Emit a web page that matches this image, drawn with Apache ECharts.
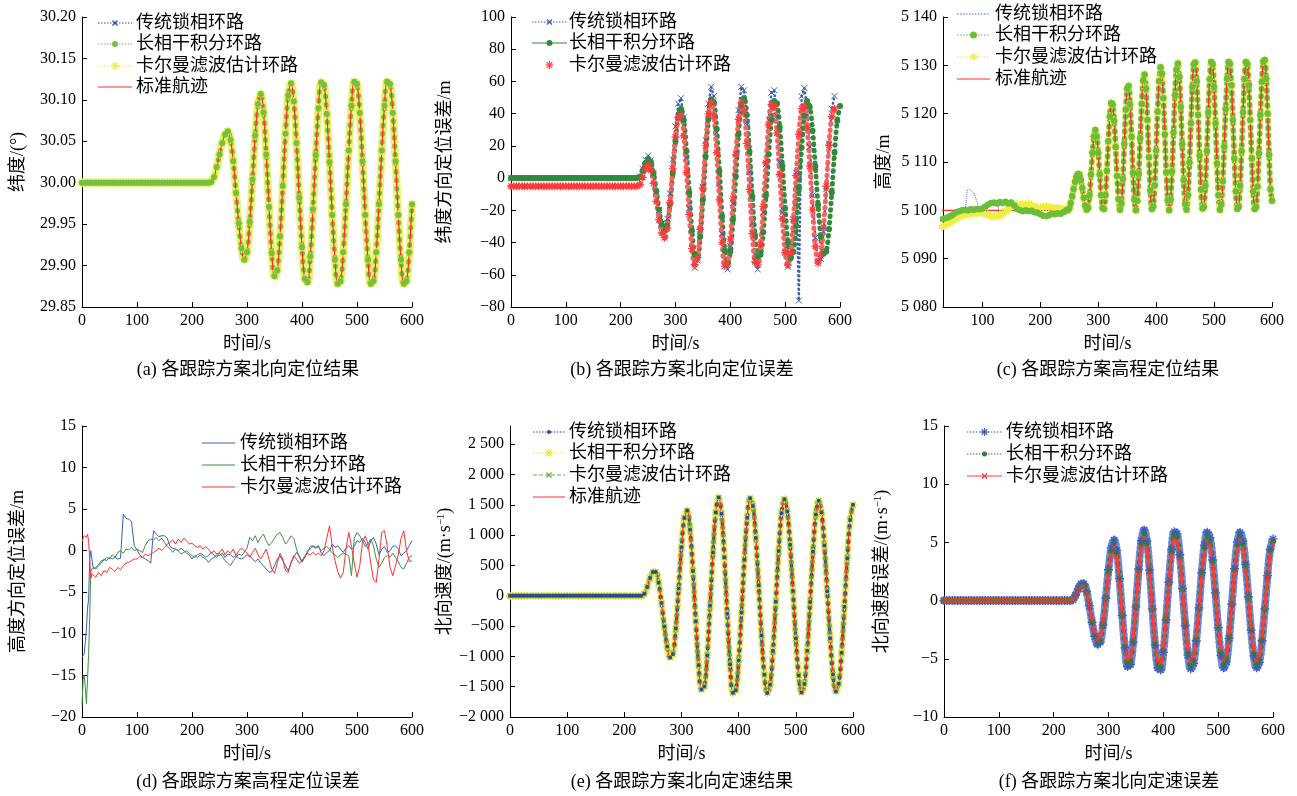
<!DOCTYPE html>
<html>
<head>
<meta charset="utf-8">
<script src="https://cdn.jsdelivr.net/npm/echarts@6/dist/echarts.min.js"></script>
<style>
  html, body { margin: 0; padding: 0; background: #fff; }
  #chart { width: 1297px; height: 796px; }
</style>
</head>
<body>
<div id="chart"></div>
<script>
// sample times (s)
const times = [];
for (let t = 0; t <= 600; t += 5) times.push(t);
const cTimesEarly = [];
for (let t = 30; t <= 245; t += 5) cTimesEarly.push(t);
const cTimesOsc = [];
for (let t = 247.5; t <= 600; t += 2.5) cTimesOsc.push(t);
const dTimes = [];
for (let t = 0; t <= 20; t += 2) dTimes.push(t);
for (let t = 25; t <= 600; t += 5) dTimes.push(t);

// (a) latitude, deg
const latTrue = [
  30, 30, 30, 30, 30, 30, 30, 30, 30, 30,
  30, 30, 30, 30, 30, 30, 30, 30, 30, 30,
  30, 30, 30, 30, 30, 30, 30, 30, 30, 30,
  30, 30, 30, 30, 30, 30, 30, 30, 30, 30,
  30, 30, 30, 30, 30, 30, 30, 30.001, 30.007, 30.019,
  30.034, 30.048, 30.058, 30.062, 30.052, 30.026, 29.988, 29.951, 29.921, 29.907,
  29.916, 29.953, 30.004, 30.057, 30.095, 30.107, 30.085, 30.034, 29.971, 29.915,
  29.887, 29.894, 29.935, 29.996, 30.059, 30.105, 30.120, 30.098, 30.048, 29.982,
  29.922, 29.884, 29.880, 29.911, 29.968, 30.033, 30.090, 30.121, 30.118, 30.083,
  30.025, 29.961, 29.907, 29.878, 29.881, 29.916, 29.974, 30.039, 30.093, 30.122,
  30.119, 30.084, 30.026, 29.961, 29.907, 29.878, 29.881, 29.916, 29.974, 30.039,
  30.093, 30.122, 30.119, 30.084, 30.026, 29.961, 29.907, 29.878, 29.881, 29.916,
  29.974
];

// (b) latitude error, m
const bPll = [
  0, 0, 0, 0, 0, 0, 0, 0, 0, 0,
  0, 0, 0, 0, 0, 0, 0, 0, 0, 0,
  0, 0, 0, 0, 0, 0, 0, 0, 0, 0,
  0, 0, 0, 0, 0, 0, 0, 0, 0, 0,
  0, 0, 0, 0, 0, 0, 0, 0.9, 5.8, 11.5,
  14, 11.0, 2.8, -8.5, -19.8, -28.0, -31, -25.2, -9.5, 11.6,
  32.1, 46.2, 49.6, 37.6, 12.5, -18.5, -43.6, -55.6, -51.1, -32.7,
  -5.4, 23.5, 46.2, 56.7, 50.8, 28.3, -3.8, -34.8, -54.5, -56.7,
  -42.2, -15.5, 15.5, 42.2, 56.7, 54.5, 34.8, 3.8, -28.3, -50.8,
  -56.7, -45.5, -21.4, 8.7, 36.1, 53.1, 54.5, 38.6, 10.2, -21.5,
  -45.9, -55, -47.1, -25.5, 3.4, -76, 50.8, 55.9, 44.1, 19.5,
  -10.7, -37.0, -51.6, -50.1, -33.4, -6.8, 21.6, 43.0, 51
];
const bFll = [
  0, 0, 0, 0, 0, 0, 0, 0, 0, 0,
  0, 0, 0, 0, 0, 0, 0, 0, 0, 0,
  0, 0, 0, 0, 0, 0, 0, 0, 0, 0,
  0, 0, 0, 0, 0, 0, 0, 0, 0, 0,
  0, 0, 0, 0, 0, 0, 0, 0.7, 4.5, 9.3,
  11.9, 10.1, 2.7, -8.1, -19.7, -28.7, -32.9, -29.5, -16.3, 2.9,
  22.8, 37.6, 43, 35.9, 16.7, -8.7, -32.5, -47.4, -48.9, -36.4,
  -13.4, 13.4, 36.4, 48.9, 47.1, 30.6, 4.3, -23.9, -45.1, -53,
  -45.6, -25.7, 1.2, 27.3, 45.2, 49.7, 39.1, 16.5, -11.2, -35.4,
  -48.7, -47.6, -33.6, -10.8, 14.8, 36.3, 47.9, 46.4, 31.5, 7.5,
  -18.8, -39.9, -49.7, -45.8, -29.8, -6.1, 18.9, 38.6, 47.8, 44.1,
  29.4, 7.2, -16.7, -36.4, -47.0, -45.6, -31.6, -9.0, 15.7, 35.5,
  44.7
];
const bKf = [
  -5, -5, -5, -5, -5, -5, -5, -5, -5, -5,
  -5, -5, -5, -5, -5, -5, -5, -5, -5, -5,
  -5, -5, -5, -5, -5, -5, -5, -5, -5, -5,
  -5, -5, -5, -5, -5, -5, -5, -5, -5, -5,
  -5, -5, -5, -5, -5, -5, -5, -4.1, 0.4, 5.7,
  8, 5.0, -3.3, -14.5, -25.8, -34.0, -37, -31.1, -15.2, 5.8,
  25.5, 37.8, 38.8, 26.2, 3.5, -22.5, -43.7, -53.7, -49.4, -31.8,
  -6.2, 20.1, 39.8, 47, 38.6, 15.9, -13.5, -39.8, -54.6, -53.3,
  -37.8, -12.8, 14.6, 36.5, 46.7, 41.5, 21.5, -7.0, -34.4, -51.9,
  -53.8, -41.1, -17.6, 9.6, 33.1, 45.8, 44.2, 28.0, 2.2, -25.4,
  -46.3, -54, -46.4, -25.7, 1.6, 27.2, 43.2, 44.8, 31.5, 7.5,
  -19.8, -42.2, -52.7, -48.2, -30.5, -5, 20.5, 38.2, 43
];

// (c) height, m  (early part 30-245 s every 5 s, then 247.5-600 s every 2.5 s)
const hEarlyTrue = [
  5100, 5100, 5100, 5100, 5100, 5100, 5100, 5100, 5100, 5100,
  5100, 5100, 5100, 5100, 5100, 5100, 5100, 5100, 5100, 5100,
  5100, 5100, 5100, 5100, 5100, 5100, 5100, 5100, 5100, 5100,
  5100, 5100, 5100, 5100, 5100, 5100, 5100, 5100, 5100, 5100,
  5100, 5100, 5100, 5100
];
const hEarlyPll = [
  5098.5, 5098.9, 5099.2, 5099.4, 5099.6, 5099.8, 5099.7, 5099.9, 5100.1, 5104.5,
  5104.1, 5103.6, 5102.0, 5100.3, 5100.2, 5100.0, 5099.6, 5099.3, 5098.9, 5098.3,
  5101.8, 5101.4, 5101.7, 5101.2, 5101.5, 5100.6, 5100.2, 5100.0, 5100.1, 5099.9,
  5100.2, 5100.4, 5100.1, 5099.8, 5099.6, 5099.4, 5099.3, 5099.5, 5099.6, 5099.2,
  5098.8, 5098.9, 5099.5, 5100.0
];
const hEarlyFll = [
  5098.2, 5098.3, 5098.5, 5098.8, 5099.2, 5099.6, 5099.8, 5100.0, 5100.1, 5100.0,
  5100.2, 5100.1, 5100.3, 5100.2, 5100.4, 5100.8, 5101.2, 5101.5, 5101.6, 5101.4,
  5101.7, 5101.5, 5101.8, 5101.4, 5101.6, 5101.0, 5100.3, 5100.0, 5099.8, 5100.0,
  5099.8, 5099.9, 5099.6, 5099.5, 5099.2, 5098.9, 5098.8, 5099.0, 5099.3, 5099.2,
  5099.4, 5099.3, 5099.6, 5100.0
];
const hEarlyKf = [
  5096.5, 5096.9, 5097.3, 5097.6, 5098.0, 5098.4, 5098.6, 5098.9, 5099.1, 5099.3,
  5099.2, 5099.5, 5099.4, 5099.6, 5099.5, 5099.3, 5099.0, 5098.8, 5098.7, 5098.9,
  5098.8, 5099.3, 5099.8, 5100.3, 5100.7, 5101.0, 5101.2, 5101.0, 5101.3, 5101.1,
  5101.4, 5101.0, 5100.8, 5100.6, 5100.5, 5100.7, 5100.8, 5100.5, 5100.6, 5100.4,
  5100.5, 5100.3, 5100.2, 5100.4
];
const hOsc = [
  5100.0, 5100.4, 5101.5, 5102.9, 5104.4, 5105.9, 5107.0, 5107.5, 5107.4, 5106.3,
  5104.6, 5102.6, 5101.0, 5100.1, 5100.5, 5103.1, 5107.4, 5111.9, 5115.3, 5116.6,
  5115.3, 5111.9, 5107.4, 5103.1, 5100.5, 5100.3, 5103.1, 5108.2, 5114.3, 5119.4,
  5122.2, 5121.9, 5118.5, 5113.1, 5107.1, 5102.3, 5100.1, 5101.4, 5106.5, 5113.8,
  5120.8, 5125.2, 5125.7, 5121.9, 5115.3, 5107.8, 5102.2, 5100.0, 5102.0, 5107.5,
  5114.9, 5122.0, 5126.9, 5128.1, 5125.2, 5118.7, 5111.0, 5104.1, 5100.3, 5100.8,
  5105.2, 5112.4, 5120.4, 5126.7, 5129.6, 5128.3, 5123.2, 5115.7, 5107.9, 5102.1,
  5100.0, 5102.2, 5108.1, 5116.1, 5123.8, 5129.1, 5130.4, 5127.6, 5121.4, 5113.7,
  5106.3, 5101.3, 5100.1, 5103.1, 5109.9, 5118.0, 5125.5, 5130.2, 5130.6, 5126.7,
  5119.7, 5111.3, 5104.3, 5100.4, 5100.7, 5105.1, 5112.3, 5120.3, 5127.1, 5130.7,
  5130.2, 5125.5, 5118.0, 5109.7, 5103.1, 5100.1, 5101.2, 5106.0, 5113.2, 5120.9,
  5127.2, 5130.7, 5130.3, 5125.9, 5118.7, 5110.7, 5103.9, 5100.3, 5100.7, 5105.1,
  5112.3, 5120.3, 5127.1, 5130.7, 5130.3, 5125.9, 5118.7, 5110.7, 5103.9, 5100.3,
  5100.7, 5104.9, 5111.8, 5119.8, 5126.6, 5130.8, 5131.1, 5127.2, 5120.0, 5111.5,
  5104.3, 5102.0
];

// (d) height error, m  (0-20 s every 2 s, then every 5 s)
const dPll = [
  -12.8, -13.0, -12.4, -11.0, -9.5, -7.0, -5.8, -1.0, 0.0, -1.0, -2.0,
  -2.2, -1.8, -1.5, -1.0, -1.2, -0.8, -1.0, -0.8, -1.0, -0.9,
  4.4, 3.9, 3.8, 3.5, 0.6, 0.1, -0.5, -0.8, -1.0, -1.2,
  -1.5, 2.4, 2.0, 1.7, 1.8, 1.8, 1.5, 0.5, 0.3, 0.2,
  0.0, 0.3, 0.0, -0.3, -0.5, -1.0, -0.6, -0.8, -0.5, -0.8,
  -1.0, -1.4, -1.0, -0.8, -0.5, -0.6, -0.3, -0.8, -0.4, -0.5,
  -0.8, -0.6, -0.9, -1.0, -0.8, -0.5, -0.6, -1.0, -1.3, -1.0,
  -1.5, -1.8, -2.2, -2.6, -2.5, -1.8, -1.0, -0.6, -1.2, -1.8,
  -2.4, -1.5, -0.8, -0.2, -0.6, -1.3, -0.8, -0.2, 0.5, 0.6,
  0.4, 0.6, -0.3, -0.6, -0.2, 0.0, 0.8, 0.4, 0.6, 0.2,
  -0.2, 0.3, 0.6, 0.2, 0.5, 1.2, 1.0, 1.5, 1.0, 0.2,
  1.2, 1.6, 0.8, -0.5, 0.2, 0.5, -0.2, 0.0, 0.5, 0.6,
  0.2, -0.6, -0.3, 0.0, 0.6, 1.2
];
const dFll = [
  -18.6, -15.5, -15.0, -16.5, -18.4, -15.5, -12.5, -8.0, -2.5, -2.2, -2.2,
  -2.0, -1.7, -1.2, -1.2, -0.8, -1.0, -0.5, -0.8, -0.2, 0.0,
  -0.3, 0.2, 0.1, 0.4, 0.0, 0.2, 0.0, -0.2, 0.6, 1.2,
  1.4, 1.3, 1.6, 1.2, 1.5, 1.0, 0.5, 0.2, -0.2, 0.2,
  0.0, -0.4, -0.2, 0.0, -0.3, -0.6, -0.8, -0.5, -0.3, -0.5,
  -0.8, -0.6, -0.2, -0.5, -0.8, -0.3, -0.7, -1.2, -1.5, -1.8,
  -1.2, -0.8, -0.4, -0.6, -0.2, 0.3, 1.6, 1.2, 1.8, 1.0,
  1.6, 2.0, 1.2, 0.6, 1.0, 1.5, 2.0, 2.2, 1.6, 0.8,
  1.2, 1.8, 1.5, 0.2, -0.8, -1.4, -0.8, 0.0, 0.2, 0.5,
  0.3, 0.5, 0.0, 0.3, 0.5, 0.2, -0.3, -0.5, -0.8, -0.5,
  -0.3, -0.4, -0.6, -3.0, 1.5, 2.2, 1.8, 1.2, 0.5, 0.8,
  1.4, 0.6, -1.0, -2.0, -1.5, -0.8, -0.6, -0.8, -0.3, -0.8,
  -1.3, -2.0, -2.2, -1.5, -0.8, -0.6
];
const dKf = [
  1.0, 1.5, 1.8, 2.0, 1.6, 2.0, 1.2, -1.0, -3.3, -2.8, -3.0,
  -3.2, -2.6, -3.0, -2.4, -2.6, -2.0, -2.2, -2.5, -2.0, -2.3,
  -1.8, -1.5, -1.4, -1.2, -1.0, -1.0, -0.7, -0.8, -0.4, -0.6,
  -0.4, -0.2, 0.0, 0.3, 0.0, 0.4, 0.8, 1.0, 1.3, 0.8,
  1.4, 1.0, 1.5, 1.2, 0.8, 0.9, 0.6, 0.4, 0.6, 0.2,
  0.5, 0.2, -0.3, 0.0, -0.4, -0.2, 0.2, -0.5, 0.0, -0.3,
  0.2, -0.6, 0.0, 0.3, 0.0, -0.3, -0.8, -0.2, 0.3, -0.5,
  -1.0, -0.4, 0.2, -1.0, -2.2, -2.7, -1.5, -0.3, -1.0, -2.4,
  -2.6, -1.4, -0.6, -1.0, -1.5, -1.2, -0.6, -0.3, -0.5, -0.2,
  -0.5, -0.3, -0.6, 0.0, 1.5, 3.0, 0.5, -1.2, -2.5, -3.3,
  -2.6, 0.2, 2.2, 0.5, -1.5, -3.2, -1.8, 1.0, 1.8, 0.8,
  -1.5, -3.5, -3.8, -1.0, 2.2, 2.4, 0.5, -2.0, -3.0, -1.8,
  -0.5, 1.5, 2.4, 0.0, -1.3, -1.2
];

// (e) north velocity, m/s
const velTrue = [
  0, 0, 0, 0, 0, 0, 0, 0, 0, 0,
  0, 0, 0, 0, 0, 0, 0, 0, 0, 0,
  0, 0, 0, 0, 0, 0, 0, 0, 0, 0,
  0, 0, 0, 0, 0, 0, 0, 0, 0, 0,
  0, 0, 0, 0, 0, 0, 0, 32, 146, 291,
  392, 393, 213, -120, -506, -839, -1019, -962, -542, 118,
  802, 1284, 1406, 1088, 409, -421, -1147, -1548, -1497, -984,
  -164, 712, 1374, 1619, 1351, 634, -295, -1130, -1598, -1557,
  -1066, -276, 592, 1286, 1609, 1480, 953, 172, -655, -1305,
  -1606, -1467, -910, -98, 738, 1362, 1591, 1391, 840, 77,
  -706, -1314, -1595, -1457, -907, -103, 725, 1342, 1569, 1372,
  827, 73, -700, -1301, -1579, -1452, -941, -183, 620, 1250,
  1500
];

// (f) north velocity error, m/s
const fPll = [
  0, 0, 0, 0, 0, 0, 0, 0, 0, 0,
  0, 0, 0, 0, 0, 0, 0, 0, 0, 0,
  0, 0, 0, 0, 0, 0, 0, 0, 0, 0,
  0, 0, 0, 0, 0, 0, 0, 0, 0, 0,
  0, 0, 0, 0, 0, 0, 0, 0.07, 0.48, 1.02,
  1.43, 1.44, 0.78, -0.44, -1.86, -3.08, -3.74, -3.55, -2.11, 0.20,
  2.65, 4.51, 5.2, 4.30, 1.88, -1.26, -4.07, -5.65, -5.47, -3.57,
  -0.54, 2.70, 5.14, 6.05, 5.12, 2.61, -0.71, -3.82, -5.76, -5.96,
  -4.44, -1.65, 1.60, 4.39, 5.91, 5.74, 3.94, 1.04, -2.14, -4.68,
  -5.86, -5.39, -3.47, -0.62, 2.40, 4.77, 5.87, 5.40, 3.49, 0.66,
  -2.33, -4.68, -5.77, -5.26, -3.24, -0.29, 2.75, 5.02, 5.85, 5.12,
  3.11, 0.33, -2.53, -4.75, -5.77, -5.31, -3.47, -0.74, 2.15, 4.42,
  5.3
];
const fFll = [
  0, 0, 0, 0, 0, 0, 0, 0, 0, 0,
  0, 0, 0, 0, 0, 0, 0, 0, 0, 0,
  0, 0, 0, 0, 0, 0, 0, 0, 0, 0,
  0, 0, 0, 0, 0, 0, 0, 0, 0, 0,
  0, 0, 0, 0, 0, 0, 0, 0.07, 0.45, 0.96,
  1.34, 1.35, 0.72, -0.43, -1.77, -2.92, -3.55, -3.37, -2.01, 0.18,
  2.50, 4.25, 4.9, 4.05, 1.76, -1.21, -3.87, -5.36, -5.19, -3.39,
  -0.52, 2.55, 4.87, 5.73, 4.85, 2.47, -0.69, -3.64, -5.48, -5.67,
  -4.23, -1.58, 1.51, 4.15, 5.59, 5.43, 3.73, 0.98, -2.04, -4.45,
  -5.57, -5.12, -3.31, -0.61, 2.25, 4.49, 5.52, 5.08, 3.28, 0.61,
  -2.23, -4.45, -5.47, -4.99, -3.08, -0.29, 2.59, 4.74, 5.53, 4.84,
  2.94, 0.30, -2.41, -4.51, -5.47, -5.04, -3.29, -0.69, 2.07, 4.23,
  5.1
];
const fKf = [
  0, 0, 0, 0, 0, 0, 0, 0, 0, 0,
  0, 0, 0, 0, 0, 0, 0, 0, 0, 0,
  0, 0, 0, 0, 0, 0, 0, 0, 0, 0,
  0, 0, 0, 0, 0, 0, 0, 0, 0, 0,
  0, 0, 0, 0, 0, 0, 0, 0.06, 0.41, 0.89,
  1.24, 1.25, 0.66, -0.42, -1.68, -2.76, -3.35, -3.18, -1.90, 0.15,
  2.34, 3.99, 4.6, 3.80, 1.64, -1.15, -3.66, -5.07, -4.90, -3.21,
  -0.49, 2.40, 4.59, 5.4, 4.57, 2.32, -0.66, -3.45, -5.19, -5.37,
  -4.01, -1.50, 1.41, 3.91, 5.27, 5.12, 3.51, 0.92, -1.93, -4.21,
  -5.27, -4.85, -3.14, -0.60, 2.09, 4.20, 5.17, 4.75, 3.06, 0.55,
  -2.12, -4.21, -5.17, -4.72, -2.92, -0.28, 2.43, 4.46, 5.2, 4.55,
  2.76, 0.27, -2.28, -4.26, -5.17, -4.76, -3.10, -0.64, 1.98, 4.03,
  4.9
];

const NAMES = ['传统锁相环路', '长相干积分环路', '卡尔曼滤波估计环路', '标准航迹'];
const captions = [
  '(a) 各跟踪方案北向定位结果', '(b) 各跟踪方案北向定位误差', '(c) 各跟踪方案高程定位结果',
  '(d) 各跟踪方案高程定位误差', '(e) 各跟踪方案北向定速结果', '(f) 各跟踪方案北向定速误差'
];

const FONT = "'Liberation Serif', 'Noto Sans CJK SC', serif";
const MINUS = '\u2212';
const SYM = {
  x: 'path://M0,0L10,10M10,0L0,10',
  star: 'path://M5,0L5,10M0,5L10,5M1.5,1.5L8.5,8.5M1.5,8.5L8.5,1.5'
};
// same marks as unit line segments, for the legend graphics
const SEG = {
  x: [[-0.5, -0.5, 0.5, 0.5], [0.5, -0.5, -0.5, 0.5]],
  star: [[0, -0.5, 0, 0.5], [-0.5, 0, 0.5, 0], [-0.35, -0.35, 0.35, 0.35], [-0.35, 0.35, 0.35, -0.35]]
};

function pts(ts, vs) {
  return vs.map((v, i) => [ts[i], v]);
}
function fmtNum(v) {
  const a = Math.abs(v);
  const s = a >= 1000 ? String(a).replace(/\B(?=(\d{3})+(?!\d))/g, ' ') : String(a);
  return (v < 0 ? MINUS : '') + s;
}

// grids: [left, top, width, height]
const boxes = [
  [82, 17, 330, 290], [511, 17, 329, 290], [943, 17, 329, 290],
  [82, 426, 330, 291], [510, 426, 343, 291], [944, 426, 329, 291]
];

const axisCommon = {
  axisLine: { onZero: false, lineStyle: { color: '#000', width: 1 } },
  axisTick: { inside: true, length: 5, lineStyle: { color: '#000' } },
  splitLine: { show: false },
  nameTextStyle: {
    color: '#000', fontFamily: FONT, fontSize: 18,
    rich: { sup: { fontFamily: FONT, fontSize: 11, verticalAlign: 'top', color: '#000' } }
  }
};

function xAx(i, extra) {
  return Object.assign({
    type: 'value', gridIndex: i, min: 0, max: 600, interval: 100,
    name: '时间/s', nameLocation: 'middle', nameGap: 28,
    axisLabel: { color: '#000', fontFamily: FONT, fontSize: 16, margin: 6 }
  }, axisCommon, extra || {});
}
function yAx(i, min, max, interval, name, gap, fmt, extra) {
  return Object.assign({
    type: 'value', gridIndex: i, min: min, max: max, interval: interval,
    name: name, nameLocation: 'middle', nameGap: gap,
    axisLabel: { color: '#000', fontFamily: FONT, fontSize: 16, margin: 6, formatter: fmt }
  }, axisCommon, extra || {});
}

// o.band = [width, gap]: the series line is drawn as a row of round beads
function ser(i, name, data, o) {
  const sym = o.mark === 'dot' ? 'circle' : o.mark ? SYM[o.mark] : 'none';
  const lineStyle = o.band
    ? { color: o.bandColor || o.color, width: o.band[0], type: [0.5, o.band[1]], cap: 'round' }
    : { color: o.color, width: o.width || 1, type: o.dash || 'solid', opacity: o.noLine ? 0 : 1 };
  return {
    type: 'line', name: name, xAxisIndex: i, yAxisIndex: i, data: data,
    symbol: sym, symbolSize: o.size || 5, showSymbol: !!o.mark,
    smooth: o.smooth === undefined ? 0.4 : o.smooth,
    lineStyle: lineStyle,
    itemStyle: {
      color: o.mark === 'dot' ? o.color : 'rgba(0,0,0,0)',
      borderColor: o.color, borderWidth: o.mark === 'dot' ? 0 : (o.bw || 1)
    },
    emphasis: { disabled: true }, silent: true, animation: false
  };
}

// legend drawn as graphic, one block per panel
function legendBlock(x0, x1, tx, ys, items) {
  const els = [];
  const mx = (x0 + x1) / 2;
  items.forEach((it, k) => {
    const y = ys[k];
    if (it.dash) {
      els.push({
        type: 'line', silent: true,
        shape: { x1: x0, y1: y, x2: x1, y2: y },
        style: {
          stroke: it.color, lineWidth: it.lw || 1,
          lineDash: it.dash === 'dotted' ? [1.5, 1.5] : it.dash === 'dashed' ? [4, 2] : null
        }
      });
    }
    const s = it.size || 6;
    if (it.mark === 'dot') {
      els.push({ type: 'circle', silent: true, shape: { cx: mx, cy: y, r: s / 2 }, style: { fill: it.color } });
    } else if (it.mark) {
      SEG[it.mark].forEach(g => {
        els.push({
          type: 'line', silent: true,
          shape: { x1: mx + g[0] * s, y1: y + g[1] * s, x2: mx + g[2] * s, y2: y + g[3] * s },
          style: { stroke: it.color, lineWidth: 1.2 }
        });
      });
    }
    els.push({
      type: 'text', silent: true, x: tx, y: y,
      style: { text: it.name, fontFamily: FONT, fontSize: 18, fill: '#000', align: 'left', verticalAlign: 'middle' }
    });
  });
  return els;
}

const C = {
  red: '#ff2b2b',
  aBlue: '#2f4fa8', aGreen: '#74bf44', aYellow: '#ecec3a',
  bBlue: '#3a5cb5', bGreen: '#2f8a3c', bRed: '#ff3b3b',
  cBlue: '#4a6fd0', cGreen: '#6cbd3a', cYellow: '#eeee44',
  dBlue: '#3a5fb5', dGreen: '#3f8f45', dRed: '#ff3030',
  eBlue: '#2c4a9a', eYellow: '#e6e63a', eGreen: '#62b24a',
  fBlue: '#3a5cc0', fGreen: '#2e7d32', fRed: '#ff3a3a'
};

const cData = (early, osc) => pts(cTimesEarly, early).concat(pts(cTimesOsc, osc));

const series = [
  // (a)
  ser(0, NAMES[0], pts(times, latTrue), { color: C.aBlue, dash: 'dotted', mark: 'x', size: 5 }),
  ser(0, NAMES[2], pts(times, latTrue), { color: C.aYellow, band: [8, 4], bandColor: '#f0f070', mark: 'star', size: 9, bw: 1.4 }),
  ser(0, NAMES[1], pts(times, latTrue), { color: C.aGreen, band: [5, 8], mark: 'dot', size: 6 }),
  ser(0, NAMES[3], pts(times, latTrue), { color: C.red, width: 1.2 }),
  // (b)
  ser(1, NAMES[0], pts(times, bPll), { color: C.bBlue, band: [2.5, 4], mark: 'x', size: 6, smooth: false }),
  ser(1, NAMES[1], pts(times, bFll), { color: C.bGreen, band: [5, 6], mark: 'dot', size: 6 }),
  ser(1, NAMES[2], pts(times, bKf), { color: C.bRed, band: [5, 6], bandColor: '#ff6060', mark: 'star', size: 8, bw: 1.2 }),
  // (c)
  ser(2, NAMES[2], cData(hEarlyKf, hOsc), { color: C.cYellow, band: [6.5, 5], bandColor: '#f2f27a', mark: 'star', size: 9, bw: 1.3 }),
  ser(2, NAMES[1], cData(hEarlyFll, hOsc), { color: C.cGreen, band: [5.5, 7], mark: 'dot', size: 6.5 }),
  ser(2, NAMES[0], cData(hEarlyPll, hOsc), { color: C.cBlue, dash: 'dotted', smooth: 0.2 }),
  ser(2, NAMES[3], cData(hEarlyTrue, hOsc), { color: C.red, width: 1.2 }),
  // (d)
  ser(3, NAMES[0], pts(dTimes, dPll), { color: C.dBlue, smooth: false }),
  ser(3, NAMES[1], pts(dTimes, dFll), { color: C.dGreen, smooth: false }),
  ser(3, NAMES[2], pts(dTimes, dKf), { color: C.dRed, smooth: false }),
  // (e)
  ser(4, NAMES[1], pts(times, velTrue), { color: C.eYellow, band: [7, 5], bandColor: '#eeee70', mark: 'star', size: 8, bw: 1.3 }),
  ser(4, NAMES[2], pts(times, velTrue), { color: C.eGreen, band: [5, 7], mark: 'x', size: 5 }),
  ser(4, NAMES[0], pts(times, velTrue), { color: C.eBlue, band: [3.5, 8], mark: 'dot', size: 4 }),
  ser(4, NAMES[3], pts(times, velTrue), { color: C.red, width: 1.2 }),
  // (f)
  ser(5, NAMES[0], pts(times, fPll), { color: C.fBlue, band: [8, 4], bandColor: '#6f88d8', mark: 'star', size: 9, bw: 1.3 }),
  ser(5, NAMES[1], pts(times, fFll), { color: C.fGreen, band: [5, 7], mark: 'dot', size: 5 }),
  ser(5, NAMES[2], pts(times, fKf), { color: C.fRed, width: 3, mark: 'x', size: 5 })
];

const graphics = [];
graphics.push.apply(graphics, legendBlock(98, 132, 136, [23, 44, 66, 87], [
  { name: NAMES[0], color: C.aBlue, dash: 'dotted', mark: 'x', size: 5 },
  { name: NAMES[1], color: C.aGreen, dash: 'dotted', mark: 'dot', size: 6 },
  { name: NAMES[2], color: C.aYellow, dash: 'dotted', mark: 'star', size: 8 },
  { name: NAMES[3], color: C.red, dash: 'solid' }
]));
graphics.push.apply(graphics, legendBlock(532, 567, 569, [22, 43, 65], [
  { name: NAMES[0], color: C.bBlue, dash: 'dotted', mark: 'x', size: 5 },
  { name: NAMES[1], color: C.bGreen, dash: 'solid', mark: 'dot', size: 6 },
  { name: NAMES[2], color: C.bRed, mark: 'star', size: 8 }
]));
graphics.push.apply(graphics, legendBlock(957, 990, 995, [14, 35, 57, 79], [
  { name: NAMES[0], color: C.cBlue, dash: 'dotted' },
  { name: NAMES[1], color: C.cGreen, dash: 'dotted', mark: 'dot', size: 7 },
  { name: NAMES[2], color: C.cYellow, dash: 'dotted', mark: 'star', size: 9 },
  { name: NAMES[3], color: C.red, dash: 'solid' }
]));
graphics.push.apply(graphics, legendBlock(202, 235, 240, [443, 465, 487], [
  { name: NAMES[0], color: C.dBlue, dash: 'solid' },
  { name: NAMES[1], color: C.dGreen, dash: 'solid' },
  { name: NAMES[2], color: C.dRed, dash: 'solid' }
]));
graphics.push.apply(graphics, legendBlock(533, 565, 569, [432, 453, 475, 497], [
  { name: NAMES[0], color: C.eBlue, dash: 'dotted', mark: 'dot', size: 4 },
  { name: NAMES[1], color: C.eYellow, dash: 'dotted', mark: 'star', size: 8 },
  { name: NAMES[2], color: C.eGreen, dash: 'dashed', mark: 'x', size: 5 },
  { name: NAMES[3], color: C.red, dash: 'solid' }
]));
graphics.push.apply(graphics, legendBlock(967, 1002, 1006, [432, 454, 476], [
  { name: NAMES[0], color: C.fBlue, dash: 'dotted', mark: 'star', size: 8 },
  { name: NAMES[1], color: C.fGreen, dash: 'dotted', mark: 'dot', size: 5 },
  { name: NAMES[2], color: C.fRed, dash: 'solid', mark: 'x', size: 5 }
]));
// captions under each panel
const capPos = [[248, 370], [682, 370], [1108, 370], [248, 782], [682, 782], [1109, 782]];
captions.forEach((txt, i) => {
  graphics.push({
    type: 'text', silent: true, x: capPos[i][0], y: capPos[i][1],
    style: { text: txt, fontFamily: FONT, fontSize: 18, fill: '#000', align: 'center', verticalAlign: 'middle' }
  });
});

const chart = echarts.init(document.getElementById('chart'), null, { renderer: 'canvas' });
chart.setOption({
  backgroundColor: '#fff',
  animation: false,
  grid: boxes.map(b => ({ left: b[0], top: b[1], width: b[2], height: b[3], outerBoundsMode: 'none', containLabel: false })),
  xAxis: [
    xAx(0), xAx(1),
    xAx(2, { min: 32, interval: null, splitNumber: 5,
      axisLabel: { color: '#000', fontFamily: FONT, fontSize: 16, margin: 6,
        formatter: v => (v % 100 === 0 ? String(v) : '') } }),
    xAx(3), xAx(4), xAx(5)
  ],
  yAxis: [
    yAx(0, 29.85, 30.20, 0.05, '纬度/(°)', 55, v => v.toFixed(2)),
    yAx(1, -80, 100, 20, '纬度方向定位误差/m', 57, fmtNum),
    yAx(2, 5080, 5140, 10, '高度/m', 50, fmtNum),
    yAx(3, -20, 15, 5, '高度方向定位误差/m', 55, fmtNum),
    yAx(4, -2000, 2800, 500, '北向速度/(m·s{sup|' + MINUS + '1})', 56, fmtNum,
      { axisLabel: { color: '#000', fontFamily: FONT, fontSize: 16, margin: 6, formatter: fmtNum, showMaxLabel: false } }),
    yAx(5, -10, 15, 5, '北向速度误差/(m·s{sup|' + MINUS + '1})', 53, fmtNum)
  ],
  series: series,
  graphic: graphics
});
</script>
</body>
</html>
